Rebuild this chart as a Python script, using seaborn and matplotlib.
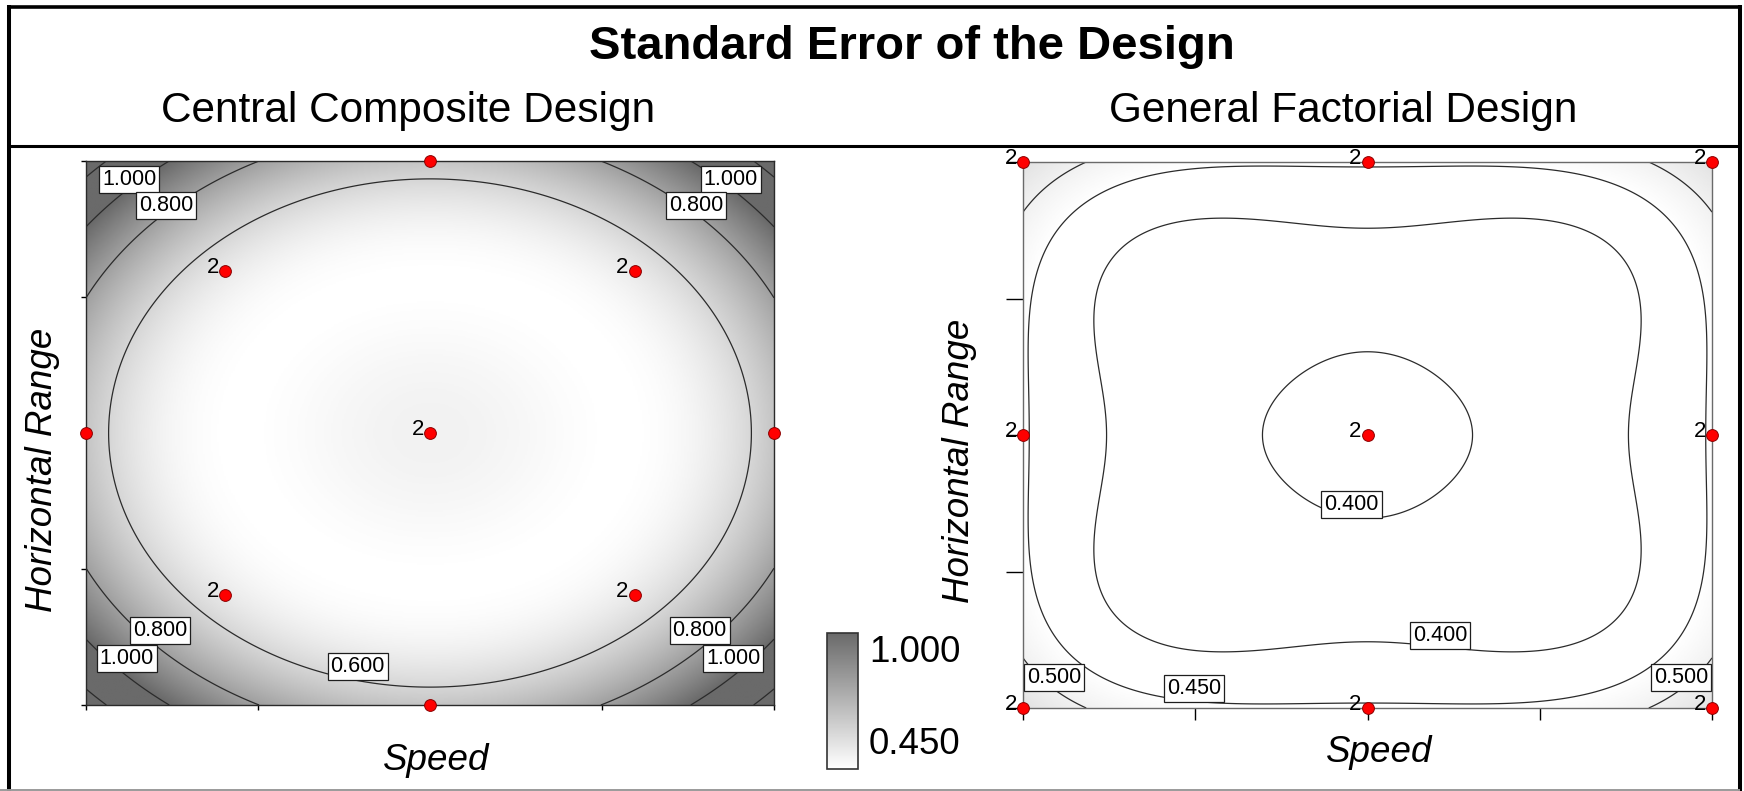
import numpy as np
import matplotlib
matplotlib.use("Agg")
import matplotlib.pyplot as plt
import seaborn as sns
from matplotlib.colors import LinearSegmentedColormap, Normalize
from matplotlib.lines import Line2D

# ---------------------------------------------------------------- designs
# Central composite design in coded units (run once per level of the
# two-level categorical factor); replicate count per location.
ccd_alpha = 1.682
ccd_speed = [-1, 1, -1, 1, -ccd_alpha, ccd_alpha, 0, 0, 0]
ccd_range = [-1, -1, 1, 1, 0, 0, -ccd_alpha, ccd_alpha, 0]
ccd_reps = [2, 2, 2, 2, 1, 1, 1, 1, 2]

# 3 x 3 general factorial in coded units
gf_speed = [-1, 0, 1, -1, 0, 1, -1, 0, 1]
gf_range = [-1, -1, -1, 0, 0, 0, 1, 1, 1]
gf_reps = [2, 2, 2, 2, 2, 2, 2, 2, 2]

category_levels = [-1, 1]
sigma = 1.0

ccd_contours = [0.6, 0.8, 1.0, 1.2]
gf_contours = [0.40, 0.45, 0.50]
shade_limits = [0.45, 1.0]

title = "Standard Error of the Design"
subtitles = ["Central Composite Design", "General Factorial Design"]
x_label = "Speed"
y_label = "Horizontal Range"


# ---------------------------------------------------------------- model
def model_terms(a, b, c):
    """Quadratic model in the two numeric factors plus a categorical factor
    and its two-factor interactions."""
    return np.stack([np.ones_like(a), a, b, c, a * b, a * c, b * c,
                     a ** 2, b ** 2], axis=-1)


def design_matrix(xs, ys, reps):
    rows = []
    for c in category_levels:
        for x, y, r in zip(xs, ys, reps):
            rows += [(x, y, c)] * r
    arr = np.asarray(rows, dtype=float)
    return model_terms(arr[:, 0], arr[:, 1], arr[:, 2])


def std_error(xs, ys, reps, gx, gy, level=1.0):
    X = design_matrix(xs, ys, reps)
    inv = np.linalg.inv(X.T @ X)
    F = model_terms(gx, gy, np.full_like(gx, level))
    var = np.einsum("...i,ij,...j->...", F, inv, F)
    return sigma * np.sqrt(var)


# ---------------------------------------------------------------- style
sns.set_theme(style="ticks")
plt.rcParams["font.family"] = ["Liberation Sans", "DejaVu Sans"]
plt.rcParams["text.color"] = "black"
plt.rcParams["axes.labelcolor"] = "black"

W, H = 1744, 791
fig = plt.figure(figsize=(W / 100, H / 100), dpi=100)
fig.patch.set_facecolor("white")


def fx(px):
    return px / W


def fy(py):
    return 1 - py / H


ax1 = fig.add_axes([fx(86), fy(705), fx(688), 544 / H])
ax2 = fig.add_axes([fx(1023), fy(708), fx(689), 546 / H])
cax = fig.add_axes([fx(827), fy(769), fx(31), 136 / H])

cmap = LinearSegmentedColormap.from_list("se_gray", ["#ffffff", "#6a6a6a"])
norm = Normalize(vmin=shade_limits[0], vmax=shade_limits[1], clip=True)

panels = [
    dict(ax=ax1, xs=ccd_speed, ys=ccd_range, reps=ccd_reps,
         lim=ccd_alpha, levels=ccd_contours, spine="#2a2a2a",
         tick_x=3.5, tick_y=3.5,
         labels=[(-0.874, 0.931), (-0.768, 0.837), (0.874, 0.931),
                 (0.774, 0.837), (-0.784, -0.727), (-0.881, -0.829),
                 (0.784, -0.727), (0.881, -0.829), (-0.21, -0.857)]),
    dict(ax=ax2, xs=gf_speed, ys=gf_range, reps=gf_reps,
         lim=1.0, levels=gf_contours, spine="#6a6a6a",
         tick_x=8.5, tick_y=12,
         labels=[(-0.047, -0.255), (0.211, -0.733), (-0.91, -0.887),
                 (-0.504, -0.927), (0.91, -0.887)]),
]

im = None
for p in panels:
    ax = p["ax"]
    lim = p["lim"]
    g = np.linspace(-lim, lim, 401)
    gx, gy = np.meshgrid(g, g)
    se = std_error(p["xs"], p["ys"], p["reps"], gx, gy)

    im = ax.imshow(se, extent=[-lim, lim, -lim, lim], origin="lower",
                   cmap=cmap, norm=norm, aspect="auto",
                   interpolation="bilinear", zorder=0)
    cs = ax.contour(gx, gy, se, levels=p["levels"], colors="#2b2b2b",
                    linewidths=0.9, zorder=2)
    manual = [(u * lim, v * lim) for u, v in p["labels"]]
    texts = ax.clabel(cs, manual=manual, inline=False, fmt="%.3f",
                      fontsize=15.5, colors="black")
    for t, pos in zip(texts, manual):
        t.set_position(pos)
        t.set_rotation(0)
        t.set_zorder(6)
        t.set_bbox(dict(boxstyle="square,pad=0.14", fc="white",
                        ec="#1e1e1e", lw=0.9))

    # design points
    sns.scatterplot(x=p["xs"], y=p["ys"], ax=ax, color="#ff0000",
                    edgecolor="#8a0000", linewidth=0.7, s=72,
                    clip_on=False, zorder=7, legend=False)
    for x, y, r in zip(p["xs"], p["ys"], p["reps"]):
        if r > 1:
            ax.annotate(str(r), (x, y), xytext=(-4.5, -1.5),
                        textcoords="offset points", ha="right",
                        va="baseline", fontsize=16, color="black",
                        annotation_clip=False, zorder=8)

    ax.set_xlim(-lim, lim)
    ax.set_ylim(-lim, lim)
    ticks = np.linspace(-lim, lim, 5)
    ax.set_xticks(ticks)
    ax.set_yticks(ticks)
    ax.set_xticklabels([])
    ax.set_yticklabels([])
    ax.tick_params(axis="x", direction="out", length=p["tick_x"],
                   width=1, color="black")
    ax.tick_params(axis="y", direction="out", length=p["tick_y"],
                   width=1, color="black")
    for s in ax.spines.values():
        s.set_color(p["spine"])
        s.set_linewidth(1.0)
        s.set_visible(True)
    ax.set_xlabel("")
    ax.set_ylabel("")

# shared gradient legend
cb = fig.colorbar(im, cax=cax, ticks=[])
cb.outline.set_edgecolor("#333333")
cb.outline.set_linewidth(1.2)
cax.tick_params(length=0)
fig.text(fx(869), fy(653), f"{shade_limits[1]:.3f}", ha="left", va="center",
         fontsize=26.5)
fig.text(fx(869), fy(745), f"{shade_limits[0]:.3f}", ha="left", va="center",
         fontsize=26.5)

# titles
fig.text(fx(912), fy(47), title, ha="center", va="center",
         fontsize=34, fontweight="bold")
fig.text(fx(408), fy(111), subtitles[0], ha="center", va="center",
         fontsize=30.5)
fig.text(fx(1343), fy(111), subtitles[1], ha="center", va="center",
         fontsize=30.5)

# axis titles
fig.text(fx(436), fy(760), x_label, ha="center", va="center",
         fontsize=26.5, style="italic")
fig.text(fx(1379), fy(752), x_label, ha="center", va="center",
         fontsize=26.5, style="italic")
fig.text(fx(42), fy(470), y_label, ha="center", va="center",
         fontsize=26.5, style="italic", rotation=90)
fig.text(fx(959), fy(461), y_label, ha="center", va="center",
         fontsize=26.5, style="italic", rotation=90)

# header frame
frame = [
    ((9, 9), (5, 791), "black", 2.9),
    ((1739.5, 1739.5), (5, 791), "black", 2.9),
    ((9, 1739.5), (6.5, 6.5), "black", 2.6),
    ((9, 1739.5), (145.5, 145.5), "black", 2.2),
    ((0, 1739.5), (789.5, 789.5), "#9a9a9a", 1.4),
]
for (x0, x1), (y0, y1), col, lw in frame:
    fig.add_artist(Line2D([fx(x0), fx(x1)], [fy(y0), fy(y1)],
                          transform=fig.transFigure, color=col, lw=lw,
                          solid_capstyle="butt"))

fig.savefig("out.png", dpi=100, facecolor="white")
